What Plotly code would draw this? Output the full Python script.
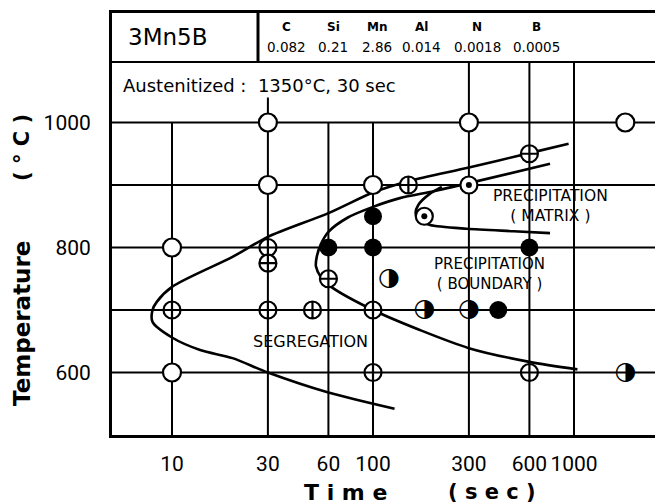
import math
import plotly.graph_objects as go

# ---------------- data ----------------
x_ticks = [10, 30, 60, 100, 300, 600, 1000]
y_ticks = [600, 800, 1000]
y_grid = [600, 700, 800, 900, 1000]
x_grid_top = [1000, 1040, 1000, 1000, 1097, 1097, 1097]

open_t = [10, 10, 30, 30, 100, 300, 1800]
open_T = [800, 600, 1000, 900, 900, 1000, 1000]

cross_t = [10, 30, 50, 100, 30, 30, 60, 150, 600, 100, 600]
cross_T = [700, 700, 700, 700, 800, 775, 750, 900, 950, 600, 600]

dot_t = [180, 300]
dot_T = [850, 900]

filled_t = [60, 100, 100, 600, 420]
filled_T = [800, 850, 800, 800, 700]

half_t = [120, 180, 300, 1800]
half_T = [750, 700, 700, 600]

seg_t = [128, 60, 30, 20, 13.8, 10, 8.0, 8.0, 8.4, 10, 20, 30, 60, 100, 150, 300, 600, 940]
seg_T = [542, 568, 600, 623, 636, 656, 681, 700, 713, 737, 785, 817, 855, 888, 906, 928, 951, 966]

bnd_t = [1040, 600, 300, 171, 100, 62, 55, 52, 52.5, 55, 60, 75, 100, 136, 200, 300, 760]
bnd_T = [605, 617, 639, 668, 700, 737, 753, 770, 785, 805, 825, 848, 865, 879, 890, 903, 934]

mat_t = [220, 190, 168, 163, 170, 192, 292, 500, 760]
mat_T = [897, 885, 868, 855, 843, 836, 830, 826, 823]

elements = ["C", "Si", "Mn", "Al", "N", "B"]
contents = ["0.082", "0.21", "2.86", "0.014", "0.0018", "0.0005"]

# ---------------- geometry (screen px; page body adds an 8px offset) ----------------
OFF = 8
SW, SH = 663, 504
W, H = SW - OFF, SH - OFF
AX_L, AX_R, AX_T, AX_B = 112, 663, 13, 435          # plot frame in screen px
ML, MR, MT, MB = AX_L - OFF, (OFF + W) - AX_R, AX_T - OFF, (OFF + H) - AX_B
PW, PH = AX_R - AX_L, AX_B - AX_T
x_lo = 1 - (172 - AX_L) / 201
x_hi = x_lo + PW / 201
y_lo, y_hi = 500, 500 + PH / 0.625
t_min, t_max = 10 ** x_lo, 10 ** x_hi


def px(xp):
    return (xp - AX_L) / PW


def py(yp):
    return (AX_B - yp) / PH


FONT = "DejaVu Sans"
fig = go.Figure()

# grid lines
gx, gy = [], []
for t, top in zip(x_ticks, x_grid_top):
    gx += [t, t, None]
    gy += [y_lo, top, None]
for T in y_grid:
    gx += [t_min, t_max, None]
    gy += [T, T, None]
fig.add_trace(go.Scatter(x=gx, y=gy, mode="lines", line=dict(color="black", width=2),
                         hoverinfo="skip", showlegend=False))

# curves
for tt, TT in [(seg_t, seg_T), (bnd_t, bnd_T), (mat_t, mat_T)]:
    fig.add_trace(go.Scatter(x=tt, y=TT, mode="lines",
                             line=dict(color="black", width=2.6, shape="spline", smoothing=0.8),
                             showlegend=False))

# markers
fig.add_trace(go.Scatter(x=open_t, y=open_T, mode="markers",
                         marker=dict(symbol="circle", size=18, color="white",
                                     line=dict(color="black", width=2.2)), showlegend=False))
fig.add_trace(go.Scatter(x=cross_t, y=cross_T, mode="markers",
                         marker=dict(symbol="circle-cross", size=17, color="white",
                                     line=dict(color="black", width=2.2)), showlegend=False))
fig.add_trace(go.Scatter(x=dot_t, y=dot_T, mode="markers",
                         marker=dict(symbol="circle", size=17, color="white",
                                     line=dict(color="black", width=2.2)), showlegend=False))
fig.add_trace(go.Scatter(x=dot_t, y=dot_T, mode="markers",
                         marker=dict(symbol="circle", size=6, color="black"), showlegend=False))
fig.add_trace(go.Scatter(x=filled_t, y=filled_T, mode="markers",
                         marker=dict(symbol="circle", size=18, color="black"), showlegend=False))
fig.add_trace(go.Scatter(x=half_t, y=half_T, mode="text", text=["◑"] * len(half_t),
                         textfont=dict(family=FONT, size=25, color="black"),
                         textposition="middle center", showlegend=False))

C = dict(xanchor="center", yanchor="middle", showarrow=False)
ann = []
# region labels (data coords; log axis -> log10)
ann.append(dict(x=math.log10(48.6), y=649, xref="x", yref="y", text="SEGREGATION",
                font=dict(family=FONT, size=16, color="black"), **C))
ann.append(dict(x=math.log10(760), y=866, xref="x", yref="y", text="PRECIPITATION<br>( MATRIX )",
                font=dict(family=FONT, size=15.5, color="black"), **C))
ann.append(dict(x=math.log10(382), y=757, xref="x", yref="y", text="PRECIPITATION<br>( BOUNDARY )",
                font=dict(family=FONT, size=15, color="black"), **C))

# header
ann.append(dict(x=px(167), y=py(37), xref="paper", yref="paper", text="3Mn5B",
                font=dict(family=FONT, size=23, color="black"), **C))
el_x = [286, 333, 377, 421, 477, 536]
for e, c, xp in zip(elements, contents, el_x):
    ann.append(dict(x=px(xp), y=py(27), xref="paper", yref="paper", text="<b>%s</b>" % e,
                    font=dict(family=FONT, size=12, color="black"), **C))
    ann.append(dict(x=px(xp), y=py(47), xref="paper", yref="paper", text=c,
                    font=dict(family=FONT, size=13.5, color="black"), **C))
ann.append(dict(x=px(121), y=py(86), xref="paper", yref="paper", xanchor="left", yanchor="middle",
                text="Austenitized :  1350°C, 30 sec", showarrow=False,
                font=dict(family=FONT, size=18, color="black")))

# axis titles
ann.append(dict(x=px(345), y=py(492), xref="paper", yref="paper", text="<b>T i m e</b>",
                font=dict(family=FONT, size=22, color="black"), **C))
ann.append(dict(x=px(492), y=py(492), xref="paper", yref="paper", text="<b>( s e c )</b>",
                font=dict(family=FONT, size=21, color="black"), **C))
ann.append(dict(x=px(22), y=py(324), xref="paper", yref="paper", text="<b>Temperature</b>",
                textangle=-90, font=dict(family=FONT, size=23, color="black"), **C))
ann.append(dict(x=px(22), y=py(148), xref="paper", yref="paper", text="<b>( ° C )</b>",
                textangle=-90, font=dict(family=FONT, size=21, color="black"), **C))

shapes = [
    dict(type="line", xref="paper", yref="paper", x0=0, x1=1, y0=py(62), y1=py(62),
         line=dict(color="black", width=2)),
    dict(type="line", xref="paper", yref="paper", x0=px(258), x1=px(258), y0=py(62), y1=1,
         line=dict(color="black", width=3)),
]

fig.update_layout(
    width=W, height=H,
    margin=dict(l=ML, r=MR, t=MT, b=MB, autoexpand=False),
    paper_bgcolor="white", plot_bgcolor="white",
    annotations=ann, shapes=shapes,
    xaxis=dict(type="log", range=[x_lo, x_hi], tickvals=x_ticks,
               ticktext=[str(v) for v in x_ticks], showgrid=False, zeroline=False,
               showline=True, linecolor="black", linewidth=3, mirror=True,
               ticks="", ticklabelstandoff=8,
               tickfont=dict(family="Roboto", size=21, color="black")),
    yaxis=dict(range=[y_lo, y_hi], tickvals=y_ticks, ticktext=[str(v) for v in y_ticks],
               showgrid=False, zeroline=False, showline=True, linecolor="black", linewidth=3,
               ticks="", ticklabelstandoff=14,
               tickfont=dict(family="Roboto", size=21, color="black")),
)

fig.write_html("out.html")
